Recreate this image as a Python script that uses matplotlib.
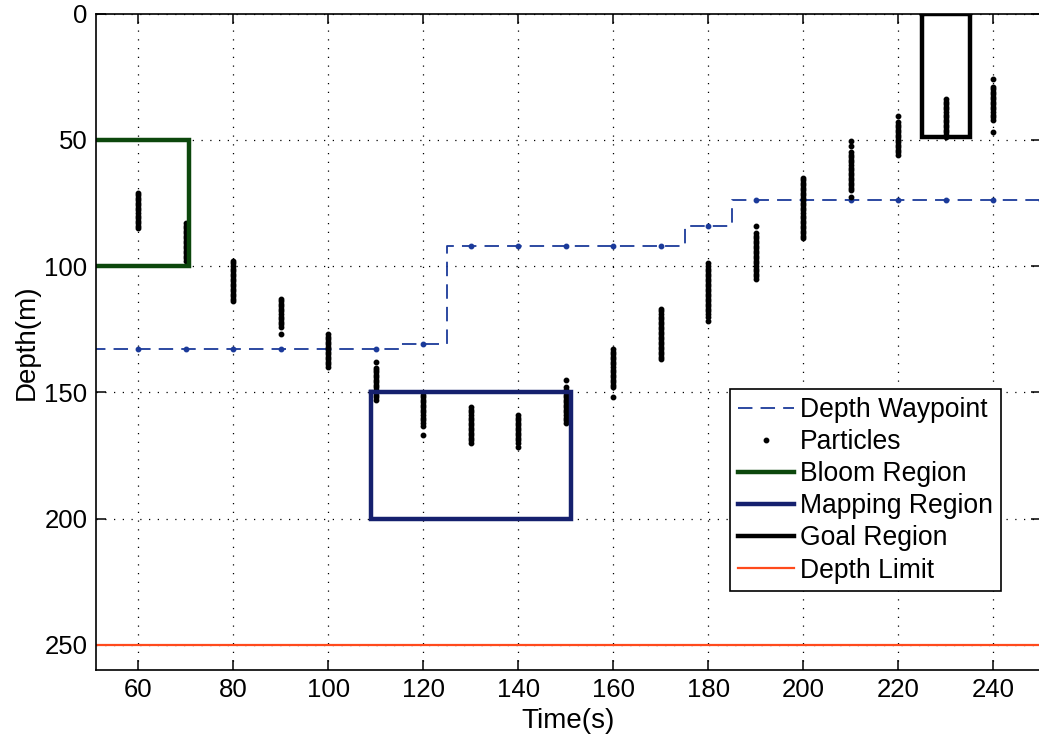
import numpy as np
import matplotlib
matplotlib.use('Agg')
from matplotlib import pyplot as plt

plt.rcParams['font.family'] = ['Liberation Sans', 'DejaVu Sans']

# depth waypoints (one every 10 s)
waypoint_time = [50, 60, 70, 80, 90, 100, 110, 120, 130, 140, 150, 160, 170,
                 180, 190, 200, 210, 220, 230, 240, 250]
waypoint_depth = [133, 133, 133, 133, 133, 133, 133, 131, 92, 92, 92, 92, 92,
                  84, 74, 74, 74, 74, 74, 74, 74]

# particle depths read at each sample time
particle_times = [60, 70, 80, 90, 100, 110, 120, 130, 140, 150, 160, 170, 180,
                  190, 200, 210, 220, 230, 240]
particle_depths = [
    [71, 72, 73, 74, 75, 76, 77, 78, 79, 80, 81, 82, 83, 84, 85],
    [83, 84, 85, 86, 87, 88, 89, 90, 91, 92, 93, 94, 95, 96, 97, 98],
    [98, 99, 100, 101, 102, 103, 104, 105, 106, 107, 108, 109, 110, 111, 112, 113, 114],
    [113, 114, 115, 116, 117, 118, 119, 120, 121, 122, 123, 124, 127],
    [127, 128, 129, 130, 131, 132, 133, 134, 135, 136, 137, 138, 139, 140],
    [138, 140.5, 141, 142, 143, 144, 145, 146, 147, 148, 149, 150, 151, 152, 153],
    [151, 152, 153, 154, 155, 156, 157, 158, 159, 160, 161, 162, 163.5, 167],
    [156, 157, 158, 159, 160, 161, 162, 163, 164, 165, 166, 167, 168, 169, 170],
    [159, 160, 161, 162, 163, 164, 165, 166, 167, 168, 169, 170, 171.5],
    [145, 148, 149, 150, 151, 152, 153, 154, 155, 156, 157, 158, 159, 160, 161, 162],
    [133, 134, 135, 136, 137, 138, 139, 140, 141, 142, 143, 144, 145, 146, 147, 148, 152],
    [117, 118, 119, 120, 121, 122, 123, 124, 125, 126, 127, 128, 129, 130, 131, 132,
     133, 134, 135, 136, 137],
    [99, 100, 101, 102, 103, 104, 105, 106, 107, 108, 109, 110, 111, 112, 113, 114,
     115, 116, 117, 118, 119, 120, 121.7],
    [84, 87, 88, 89, 90, 91, 92, 93, 94, 95, 96, 97, 98, 99, 100, 101, 102, 103, 104, 105],
    [65, 66, 67, 68, 69, 70, 71, 72, 73, 74, 75, 76, 77, 78, 79, 80, 81, 82, 83, 84,
     85, 86, 87, 88, 89],
    [50.5, 52.5, 55, 56, 57, 58, 59, 60, 61, 62, 63, 64, 65, 66, 67, 68, 69, 70, 72.5],
    [40.5, 43, 44, 45, 46, 47, 48, 49, 50, 51, 52, 53, 54, 55, 56],
    [34, 35, 36, 37, 38, 39, 40, 41, 42, 43, 44, 45, 46, 47, 48, 49],
    [26, 29, 30, 31, 32, 33, 34, 35, 36, 37, 38, 39, 40, 41, 42, 47],
]

# regions: [t_start, t_end, depth_top, depth_bottom]
bloom_region = [50, 70.7, 50, 100]
mapping_region = [109, 151, 150, 200]
goal_region = [225, 235, 0, 49]
depth_limit = 250

fig = plt.figure(figsize=(10.39, 7.38), dpi=100)
ax = fig.add_axes([0.0921, 0.0921, 0.9098, 0.8896])

def rect(r):
    x0, x1, y0, y1 = r
    return [x0, x1, x1, x0, x0], [y0, y0, y1, y1, y0]

wp_color = '#1b3a9a'
ax.plot(waypoint_time, waypoint_depth, color=wp_color, lw=1.3, dashes=(8, 4.5),
        drawstyle='steps-mid', label='Depth Waypoint')
ax.plot(waypoint_time, waypoint_depth, color=wp_color, ls='none', marker='o', ms=3.2)

for i, (t, d) in enumerate(zip(particle_times, particle_depths)):
    ax.plot([t] * len(d), d, ls='none', marker='o', ms=3.2, color='black',
            label='Particles' if i == 0 else None)

bx, by = rect(bloom_region)
ax.plot(bx, by, color='#0c470c', lw=3.2, label='Bloom Region', solid_joinstyle='miter')
mx, my = rect(mapping_region)
ax.plot(mx, my, color='#15206e', lw=3.2, label='Mapping Region', solid_joinstyle='miter')
gx, gy = rect(goal_region)
ax.plot(gx, gy, color='black', lw=3.2, label='Goal Region', solid_joinstyle='miter')
ax.axhline(depth_limit, color='#ff4a1c', lw=1.6, label='Depth Limit')

ax.set_xlim(51, 250)
ax.set_ylim(260, 0)
ax.set_xticks(np.arange(60, 241, 20))
ax.set_yticks(np.arange(0, 251, 50))
ax.grid(True, color='black', ls=(0, (1, 6)), lw=0.9)
ax.tick_params(direction='in', length=7, width=1.1, top=True, right=True,
               labelsize=18.5, pad=6)
for s in ax.spines.values():
    s.set_linewidth(1.2)

ax.set_xlabel('Time(s)', fontsize=20, labelpad=4)
ax.set_ylabel('Depth(m)', fontsize=20, labelpad=3)

leg = ax.legend(loc='upper left', bbox_to_anchor=(0.671, 0.428), borderaxespad=0,
                fontsize=19.1, numpoints=1, handlelength=2.1, handletextpad=0.25,
                labelspacing=0.23, borderpad=0.3, fancybox=False, framealpha=1,
                edgecolor='black')
leg.get_frame().set_linewidth(1.2)

fig.savefig('out.png', dpi=100)
